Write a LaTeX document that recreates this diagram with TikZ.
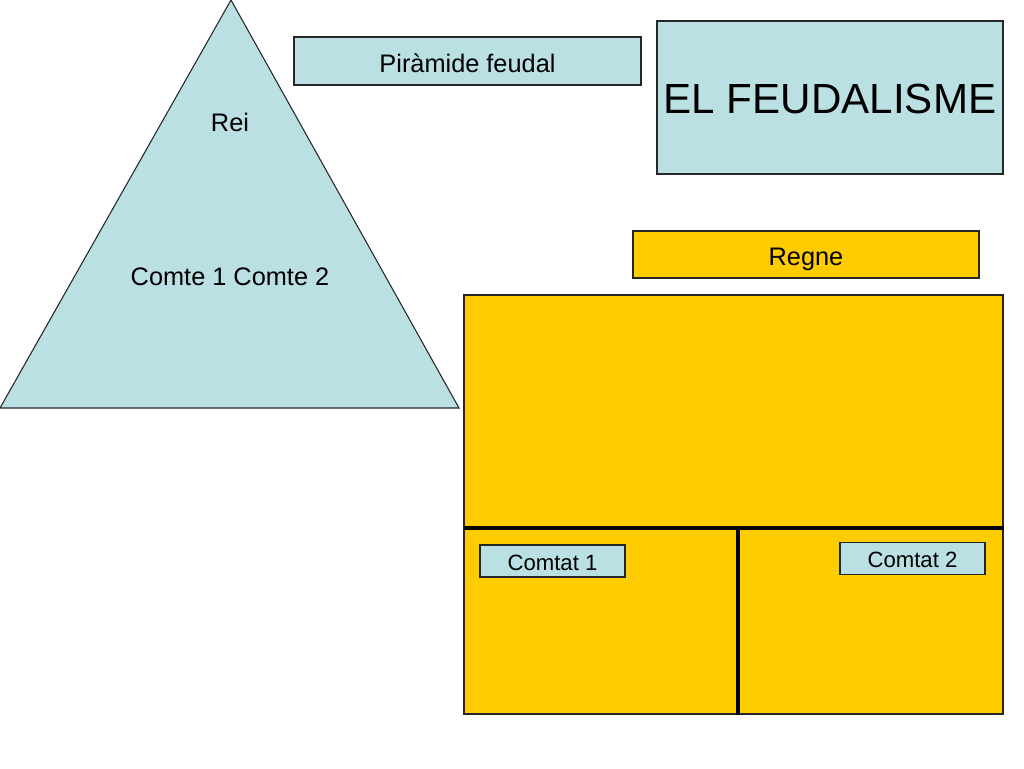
\documentclass[tikz,border=0pt]{standalone}
\usepackage{fontspec}
\setmainfont{Liberation Sans}
\definecolor{lblue}{HTML}{BBE0E3}
\definecolor{gold}{HTML}{FFCC00}
\begin{document}
\begin{tikzpicture}[x=0.75pt,y=-0.75pt,
  outline/.style={draw=black!85, line width=0.8pt},
  mid/.style={font=\fontsize{19pt}{22pt}\selectfont, text height=16.6pt, text depth=0pt},
  small/.style={font=\fontsize{16.6pt}{20pt}\selectfont, text height=14.1pt, text depth=0pt},
  big/.style={font=\fontsize{31.6pt}{36pt}\selectfont, text height=24.1pt, text depth=0pt},
  bluebox/.style={outline, fill=lblue, inner sep=0pt},
  goldbox/.style={outline, fill=gold, inner sep=0pt},
  divider/.style={draw=black, line width=2.5pt},
  plain/.style={inner sep=0pt, mid}]
\useasboundingbox[fill=white] (0,0) rectangle (1024,768);
% pyramid
\coordinate (apex) at (231,0);
\coordinate (bl) at (0,408);
\coordinate (br) at (459,408);
\filldraw[outline, fill=lblue] (apex) -- (br) -- (bl) -- cycle;
\node[plain] (rei) at (230,120.8) {Rei};
\node[plain] (comtes) at (230,274.7) {Comte 1 Comte 2};
% title boxes
\node[bluebox, mid, minimum width=260.25pt, minimum height=36pt] (piramide) at (467.5,61) {Piràmide feudal};
\node[bluebox, big, minimum width=259.5pt, minimum height=114.75pt] (title) at (830,97.5) {EL FEUDALISME};
\node[goldbox, mid, minimum width=259.5pt, minimum height=35.25pt] (regne) at (806,254.5) {Regne};
% kingdom
\node[goldbox, minimum width=404.25pt, minimum height=314.25pt] (kingdom) at (733.5,504.5) {};
\coordinate (hsplit) at (464,528);
\coordinate (vsplit) at (738,528);
\draw[divider] (hsplit) -- (hsplit -| kingdom.east);
\draw[divider] (vsplit) -- (vsplit |- kingdom.south);
\node[bluebox, small, minimum width=108.75pt, minimum height=24pt] (comtat1) at (552.5,561) {Comtat 1};
\node[bluebox, small, minimum width=108.75pt, minimum height=24pt] (comtat2) at (912.5,558.5) {Comtat 2};
\end{tikzpicture}
\end{document}
